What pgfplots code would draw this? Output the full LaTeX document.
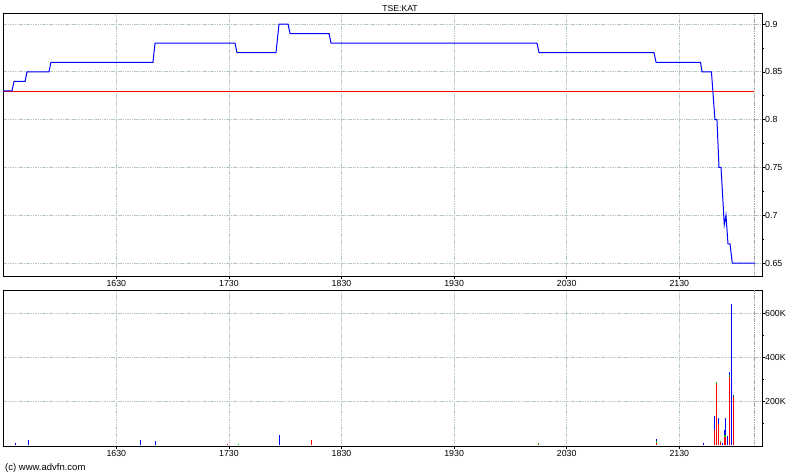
\documentclass[border=0pt]{standalone}
\usepackage{pgfplots}
\pgfplotsset{compat=1.18}
\usepackage{fontspec}
\setmainfont{Liberation Sans}
\definecolor{gridc}{RGB}{178,198,198}
\definecolor{vgreen}{RGB}{0,200,0}
\begin{document}
\begin{tikzpicture}[x=1pt,y=1pt]
\useasboundingbox (0,0) rectangle (800,475);
\pgfplotsset{
 panel/.style={
  scale only axis, width=759pt,
  xmin=1529.4, xmax=2203.4,
  axis line style={black, line width=1pt},
  xtick={1630,1730,1830,1930,2030,2130},
  xticklabels={1630,1730,1830,1930,2030,2130},
  grid=major,
  major grid style={gridc, line width=0.8pt, dash pattern=on 1.5pt off 0.8pt},
  tick style={black, line width=0.6pt},
  major tick length=3pt, minor tick length=2pt,
  ticklabel style={font=\fontsize{8.8}{10}\selectfont, inner sep=0pt},
  xtick pos=bottom, ytick pos=right, tick align=outside,
  yticklabel pos=right,
  yticklabel style={anchor=west, xshift=0pt},
  xticklabel style={anchor=north, yshift=-1pt},
  scaled y ticks=false,
  extra x ticks={2196.3}, extra x tick labels={},
  extra x tick style={grid=major, major tick length=0pt,
     major grid style={gray!75, line width=0.8pt, dash pattern=on 1.5pt off 0.8pt}},
 }
}
\node[anchor=base, font=\fontsize{8.6}{10}\selectfont, inner sep=0pt] at (400,463) {TSE:KAT};
\node[anchor=base west, font=\fontsize{9.5}{10}\selectfont, inner sep=0pt] at (5,5) {(c) www.advfn.com};

\begin{axis}[panel, at={(3pt,199pt)}, anchor=south west, height=262pt,
  ymin=0.6364, ymax=0.9105,
  ytick={0.65,0.7,0.75,0.8,0.85,0.9},
  yticklabels={0.65,0.7,0.75,0.8,0.85,0.9},
  minor ytick={0.675,0.725,0.775,0.825,0.875}]
\addplot[red, line width=0.8pt] coordinates {(1529.4,0.83) (2196.3,0.83)};
\addplot[blue, line width=1pt] coordinates {
(1529.4,0.83)(1537.4,0.83)(1539.2,0.84)(1549.0,0.84)(1550.7,0.85)(1570.2,0.85)
(1572.0,0.86)(1662.6,0.86)(1664.4,0.88)(1735.4,0.88)(1737.2,0.87)(1771.8,0.87)
(1774.5,0.90)(1782.5,0.90)(1784.3,0.89)(1818.9,0.89)(1820.7,0.88)(2003.6,0.88)
(2005.4,0.87)(2107.5,0.87)(2109.3,0.86)(2148.8,0.86)(2150.1,0.85)(2158.5,0.85)
(2161.6,0.80)(2163.4,0.80)(2165.2,0.75)(2167.0,0.75)(2169.9,0.69)(2171.4,0.70)
(2173.2,0.67)(2175.0,0.67)(2177.0,0.65)(2197.2,0.65)};
\end{axis}

\begin{axis}[panel, at={(3pt,29pt)}, anchor=south west, height=156pt,
  ymin=-3200, ymax=705800,
  ytick={200000,400000,600000},
  yticklabels={200K,400K,600K},
  minor ytick={100000,300000,500000}]
\addplot[blue, ycomb, line width=1.3pt, mark=none] coordinates {
(1540.3,9000)(1551.9,24000)(1651.3,24000)(1664.6,20000)(1774.7,47000)
(2109.5,29000)(2151.3,12000)(2161.1,133000)(2164.6,124000)(2168.2,10000)
(2169.9,70000)(2170.8,124000)(2172.6,44000)(2174.4,333000)(2176.1,642000)
(2177.9,229000)};
\addplot[vgreen, ycomb, line width=1.3pt, mark=none] coordinates {
(1738.3,6000)(2004.7,9000)(2109.5,18000)(2162.8,288000)(2166.4,20000)
(2169.9,45000)(2170.8,47000)(2174.4,318000)(2177.9,222000)};
\addplot[red, ycomb, line width=1.3pt, mark=none] coordinates {
(1728.6,6000)(1803.1,24000)(2004.7,7000)(2109.5,12000)(2161.1,71000)
(2162.8,279000)(2164.6,98000)(2166.4,14000)(2169.9,38000)(2170.8,39000)
(2174.4,310000)(2177.9,218000)};
\end{axis}
\end{tikzpicture}
\end{document}
